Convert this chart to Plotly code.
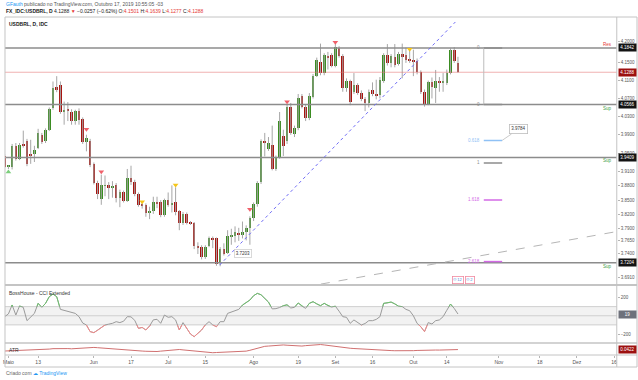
import math
import plotly.graph_objects as go

W, H = 638, 380
FONT = "Liberation Sans, Arial, sans-serif"

# ---------------- data ----------------
opens = [3.943, 3.921, 3.920, 3.966, 3.938, 3.968, 3.977, 3.9485, 3.949, 3.961,
         3.990, 3.976, 4.001, 4.048, 4.095, 4.099, 4.041, 4.044, 4.041, 4.021,
         4.043, 4.025, 3.974, 3.977, 3.926, 3.887, 3.853, 3.880, 3.881, 3.877,
         3.882, 3.855, 3.866, 3.849, 3.896, 3.889, 3.862, 3.840, 3.840, 3.823,
         3.826, 3.846, 3.845, 3.818, 3.850, 3.841, 3.845, 3.826, 3.802, 3.821,
         3.802, 3.801, 3.755, 3.752, 3.731, 3.755, 3.770, 3.770, 3.721, 3.748,
         3.741, 3.775, 3.776, 3.781, 3.778, 3.783, 3.792, 3.813, 3.841, 3.888,
         3.976, 3.960, 3.968, 3.917, 3.941, 3.987, 3.976, 4.050, 3.992, 4.004,
         4.075, 4.052, 4.027, 4.073, 4.121, 4.153, 4.127, 4.165, 4.168, 4.144,
         4.183, 4.166, 4.093, 4.108, 4.085, 4.099, 4.083, 4.069, 4.061, 4.088,
         4.079, 4.078, 4.110, 4.168, 4.149, 4.163, 4.148, 4.170, 4.168, 4.158,
         4.155, 4.155, 4.129, 4.085, 4.058, 4.106, 4.094, 4.109, 4.106, 4.105,
         4.127, 4.180, 4.1501]
highs = [3.948, 3.924, 3.970, 3.972, 3.972, 3.999, 3.981, 3.979, 3.966, 4.003,
         3.994, 4.004, 4.050, 4.108, 4.120, 4.108, 4.063, 4.062, 4.046, 4.045,
         4.048, 4.028, 3.990, 3.981, 3.930, 3.891, 3.904, 3.902, 3.888, 3.890,
         3.886, 3.872, 3.870, 3.916, 3.923, 3.893, 3.866, 3.846, 3.843, 3.836,
         3.857, 3.857, 3.850, 3.853, 3.866, 3.881, 3.877, 3.829, 3.825, 3.824,
         3.806, 3.804, 3.762, 3.756, 3.756, 3.774, 3.774, 3.772, 3.752, 3.760,
         3.787, 3.790, 3.795, 3.792, 3.805, 3.797, 3.816, 3.845, 3.890, 3.980,
         3.994, 3.985, 4.010, 3.945, 4.040, 4.001, 4.056, 4.060, 4.010, 4.080,
         4.080, 4.056, 4.082, 4.125, 4.162, 4.194, 4.172, 4.175, 4.172, 4.193,
         4.188, 4.170, 4.115, 4.112, 4.127, 4.104, 4.088, 4.073, 4.090, 4.106,
         4.112, 4.118, 4.172, 4.193, 4.170, 4.193, 4.175, 4.194, 4.185, 4.180,
         4.180, 4.160, 4.133, 4.090, 4.110, 4.117, 4.134, 4.118, 4.127, 4.135,
         4.183, 4.186, 4.1639]
lows = [3.918, 3.916, 3.915, 3.934, 3.935, 3.962, 3.922, 3.927, 3.931, 3.959,
        3.970, 3.972, 3.998, 4.045, 4.084, 4.036, 4.012, 4.020, 4.012, 4.012,
        4.012, 3.970, 3.954, 3.920, 3.883, 3.852, 3.840, 3.858, 3.852, 3.855,
        3.845, 3.835, 3.845, 3.846, 3.882, 3.858, 3.836, 3.832, 3.815, 3.810,
        3.821, 3.833, 3.814, 3.815, 3.836, 3.824, 3.818, 3.787, 3.798, 3.799,
        3.798, 3.748, 3.738, 3.727, 3.728, 3.752, 3.750, 3.714, 3.713, 3.735,
        3.738, 3.757, 3.762, 3.765, 3.770, 3.766, 3.757, 3.806, 3.836, 3.884,
        3.943, 3.955, 3.913, 3.912, 3.938, 3.944, 3.970, 3.990, 3.985, 4.000,
        4.048, 4.020, 4.022, 4.070, 4.118, 4.122, 4.122, 4.135, 4.140, 4.140,
        4.162, 4.085, 4.085, 4.055, 4.080, 4.078, 4.064, 4.042, 4.050, 4.075,
        4.068, 4.070, 4.105, 4.144, 4.140, 4.140, 4.144, 4.115, 4.150, 4.150,
        4.120, 4.124, 4.080, 4.052, 4.055, 4.070, 4.060, 4.085, 4.085, 4.100,
        4.124, 4.150, 4.1277]
closes = [3.921, 3.922, 3.966, 3.938, 3.968, 3.966, 3.927, 3.945, 3.956, 3.993,
          3.974, 4.000, 4.046, 4.093, 4.091, 4.039, 4.044, 4.043, 4.021, 4.043,
          4.023, 3.974, 3.982, 3.924, 3.887, 3.862, 3.881, 3.881, 3.877, 3.880,
          3.855, 3.866, 3.849, 3.896, 3.888, 3.862, 3.840, 3.838, 3.822, 3.826,
          3.845, 3.842, 3.818, 3.850, 3.839, 3.843, 3.825, 3.802, 3.821, 3.802,
          3.801, 3.755, 3.750, 3.731, 3.752, 3.770, 3.767, 3.717, 3.748, 3.738,
          3.776, 3.776, 3.784, 3.778, 3.784, 3.792, 3.813, 3.841, 3.886, 3.976,
          3.973, 3.973, 3.917, 3.941, 4.020, 3.965, 4.051, 3.994, 4.004, 4.070,
          4.052, 4.027, 4.076, 4.121, 4.157, 4.127, 4.168, 4.160, 4.144, 4.187,
          4.166, 4.093, 4.108, 4.063, 4.099, 4.083, 4.069, 4.061, 4.085, 4.079,
          4.076, 4.112, 4.168, 4.149, 4.165, 4.145, 4.170, 4.164, 4.157, 4.155,
          4.154, 4.129, 4.085, 4.058, 4.106, 4.095, 4.109, 4.106, 4.107, 4.127,
          4.179, 4.1545, 4.1288]
cci_values = [-10, 20, 118, 8, 107, 92, -54, -10, 26, 136,
              92, 136, 209, 238, 209, 70, 60, 44, 35, 26,
              -10, -80, -101, -174, -185, -160, -130, -101, -92, -83,
              -65, -75, -60, -10, -12, -50, -138, -128, -156, -112,
              -45, -39, -83, 8, -17, -10, -46, -156, -75, -138,
              -200, -229, -192, -156, -100, -65, -100, -120, -65, -65,
              26, 40, 55, 70, 117, 140, 172, 220, 245, 230,
              190, 150, 75, 78, 90, 110, 120, 85, 92, 140,
              105, 81, 136, 154, 130, 110, 136, 110, 95, 105,
              50, -10, -17, -83, -46, -75, -101, -85, -54, -54,
              -40, -10, 136, 140, 150, 130, 105, 100, 70, 55,
              0, -83, -120, -174, -75, -90, -54, -46, -10, 60,
              128, 80, 19]
atr_values = [0.0370, 0.0375, 0.0382, 0.0388, 0.0395, 0.0402, 0.0410, 0.0405, 0.0400, 0.0412,
              0.0418, 0.0425, 0.0440, 0.0455, 0.0462, 0.0470, 0.0465, 0.0458, 0.0450, 0.0462,
              0.0475, 0.0488, 0.0495, 0.0505, 0.0500, 0.0490, 0.0478, 0.0465, 0.0452, 0.0440,
              0.0432, 0.0420, 0.0408, 0.0415, 0.0402, 0.0390, 0.0378, 0.0368, 0.0360, 0.0352,
              0.0346, 0.0352, 0.0365, 0.0380, 0.0398, 0.0415, 0.0430, 0.0425, 0.0410, 0.0395,
              0.0380, 0.0365, 0.0350, 0.0338, 0.0325, 0.0315, 0.0308, 0.0315, 0.0322, 0.0330,
              0.0335, 0.0340, 0.0338, 0.0342, 0.0348, 0.0365, 0.0395, 0.0430, 0.0470, 0.0525,
              0.0540, 0.0550, 0.0565, 0.0570, 0.0585, 0.0590, 0.0580, 0.0570, 0.0560, 0.0552,
              0.0550, 0.0565, 0.0580, 0.0600, 0.0612, 0.0605, 0.0590, 0.0570, 0.0545, 0.0525,
              0.0505, 0.0495, 0.0485, 0.0470, 0.0460, 0.0450, 0.0440, 0.0432, 0.0428, 0.0420,
              0.0412, 0.0405, 0.0398, 0.0390, 0.0385, 0.0380, 0.0376, 0.0372, 0.0370, 0.0375,
              0.0382, 0.0390, 0.0398, 0.0405, 0.0410, 0.0408, 0.0405, 0.0404, 0.0410, 0.0415,
              0.0420, 0.0425, 0.0422]
bar_index = list(range(len(closes)))

date_tick_pos = [1, 9, 24, 34, 44, 54, 67, 79, 89, 99, 110, 119, 133, 144, 154, 164]
date_tick_text = ["Maio", "13", "Jun", "17", "Jul", "15", "Ago", "19", "Set", "16",
                  "Out", "14", "Nov", "18", "Dez", "16"]
price_tick_vals = [4.2000, 4.1500, 4.1100, 4.0700, 4.0300, 3.9900, 3.9500, 3.9100,
                   3.8800, 3.8500, 3.8200, 3.7900, 3.7650, 3.7400, 3.6910]
cci_tick_vals = [200, -200]
cci_tick_text = ["200", "−200"]

level_values = [4.1842, 4.0566, 3.9409, 3.7204]
level_tags = ["Res", "Sup", "Sup", "Sup"]
last_close = 4.1288
cci_last = 19
atr_last = 0.0422

fib_ratios = [0, 0.618, 1, 1.618, 2.618]
fib_high, fib_low = 4.1842, 4.0566
fib_callout = "3.9784"
fib_bars = [128.95, 133.9]

signal_bars = [1, 22, 26, 37, 46, 66, 76, 89, 109]
signal_prices = [3.9095, 4.0023, 3.9102, 3.8465, 3.8818, 3.8306, 4.0627, 4.1970, 4.1810]
signal_kinds = ["buy", "sell", "sell", "warn", "warn", "sell", "sell", "sell", "warn"]

trend_bars = [57.85, 121.3]
trend_prices = [3.7155, 4.2439]
trend_label = "3.7203"
trend_label_pos = (64.1, 3.7399)
channel_bars = [85.1, 164.74]
channel_prices = [3.677, 3.7842]

# ---------------- styling / geometry ----------------
GREEN = "#3b8c22"
RED = "#a8140f"
WICK = "#a6a6a6"
SEP = "#c4c4c4"


def px(x):
    return x / W


def py(y):
    return 1 - y / H


BAR0, STEP = 2.7, 3.727
PLOT_L, PLOT_R = 3, 616.7
TOP, SEP1, SEP2, XAX, BOT = 17, 285, 343, 355, 367
xr = [(PLOT_L - BAR0) / STEP, (PLOT_R - BAR0) / STEP]

# log price scale: 4.2 at y=41 px, 4209 px per decade
REF_LOG, REF_Y, PPD = math.log10(4.2), 41, 4209.0
price_range = [REF_LOG - (SEP1 - REF_Y) / PPD, REF_LOG + (REF_Y - TOP) / PPD]

CCI_ZERO, CCI_PX = 315.75, 0.0913
cci_hi = (CCI_ZERO - SEP1) / CCI_PX
cci_lo = (CCI_ZERO - SEP2) / CCI_PX
y100 = CCI_ZERO - 100 * CCI_PX
ym100 = CCI_ZERO + 100 * CCI_PX

ATR_PX = 275.0
atr_lo = 0.025 - (XAX - 354.3) / ATR_PX
atr_hi = 0.065 + (343.3 - SEP2) / ATR_PX

fig = go.Figure()

# wicks
wx, wy = [], []
for k, lo, hi in zip(bar_index, lows, highs):
    wx += [k, k, None]
    wy += [lo, hi, None]
fig.add_trace(go.Scatter(x=wx, y=wy, mode="lines", line=dict(color=WICK, width=1),
                         xaxis="x", yaxis="y", hoverinfo="skip"))

# bodies
bases = [min(o, c) for o, c in zip(opens, closes)]
heights = [max(abs(c - o), 0.0016) for o, c in zip(opens, closes)]
colors = [GREEN if c > o else RED for o, c in zip(opens, closes)]
fig.add_trace(go.Bar(x=bar_index, y=heights, base=bases, width=0.7,
                     marker=dict(color=colors, line=dict(width=0)),
                     xaxis="x", yaxis="y", hoverinfo="skip"))

XL, XR = -5, 170
# level lines
for lv in level_values:
    fig.add_trace(go.Scatter(x=[XL, XR], y=[lv, lv], mode="lines",
                             line=dict(color="#8c8c8c", width=1.5), xaxis="x", yaxis="y"))
fig.add_trace(go.Scatter(x=[XL, XR], y=[last_close, last_close], mode="lines",
                         line=dict(color="rgba(229,115,115,0.55)", width=1), xaxis="x", yaxis="y"))

# trend line & channel line
fig.add_trace(go.Scatter(x=trend_bars, y=trend_prices, mode="lines",
                         line=dict(color="#6f6cf5", width=1, dash="dot"), xaxis="x", yaxis="y"))
fig.add_trace(go.Scatter(x=channel_bars, y=channel_prices, mode="lines",
                         line=dict(color="#b5b5b5", width=1, dash="dash"), xaxis="x", yaxis="y"))

# fib extension
fib_colors = ["#8c8c8c", "#8fc1f5", "#8c8c8c", "#d36ae6", "#d36ae6"]
step = fib_high - fib_low
fib_prices = [fib_low - step * r for r in fib_ratios]
fig.add_trace(go.Scatter(x=[fib_bars[0], fib_bars[0]], y=[fib_high, fib_low], mode="lines",
                         line=dict(color="#bdbdbd", width=1), xaxis="x", yaxis="y"))
fig.add_trace(go.Scatter(x=fib_bars, y=[fib_high, fib_high], mode="lines",
                         line=dict(color="#8c8c8c", width=1.5), xaxis="x", yaxis="y"))
for fp, fc in zip(fib_prices, fib_colors):
    fig.add_trace(go.Scatter(x=fib_bars, y=[fp, fp], mode="lines",
                             line=dict(color=fc, width=1.5), xaxis="x", yaxis="y"))

# signal markers
sig_style = {"buy": ("triangle-up", "#7ccf7c"), "sell": ("triangle-down", "#f0606a"),
             "warn": ("triangle-down", "#f5c518")}
fig.add_trace(go.Scatter(x=signal_bars, y=signal_prices, mode="markers",
                         marker=dict(symbol=[sig_style[s][0] for s in signal_kinds],
                                     color=[sig_style[s][1] for s in signal_kinds], size=5,
                                     line=dict(width=0)),
                         xaxis="x", yaxis="y"))

# CCI
fig.add_trace(go.Scatter(x=bar_index, y=cci_values, mode="lines",
                         line=dict(color="#9a9a9a", width=1), xaxis="x", yaxis="y2"))
fig.add_trace(go.Scatter(x=bar_index, y=cci_values, mode="lines",
                         line=dict(color="#6cc16c", width=1), xaxis="x", yaxis="y3"))
fig.add_trace(go.Scatter(x=bar_index, y=cci_values, mode="lines",
                         line=dict(color="#f28a8a", width=1), xaxis="x", yaxis="y4"))

# ATR
fig.add_trace(go.Scatter(x=bar_index, y=atr_values, mode="lines",
                         line=dict(color="#d07070", width=1), xaxis="x", yaxis="y5"))

shapes = []
# CCI band
shapes.append(dict(type="rect", xref="paper", x0=px(PLOT_L), x1=px(PLOT_R), yref="y2",
                   y0=-100, y1=100, fillcolor="#f2f2f2", line=dict(width=0), layer="below"))
for v in (100, 0, -100):
    shapes.append(dict(type="line", xref="paper", x0=px(PLOT_L), x1=px(PLOT_R), yref="y2",
                       y0=v, y1=v, line=dict(color="#cfcfcf", width=1), layer="below"))
# separators / frame
for yy, wd in ((SEP1, 2), (SEP2, 1.5), (XAX, 1)):
    shapes.append(dict(type="line", xref="paper", yref="paper", x0=px(PLOT_L), x1=px(637),
                       y0=py(yy), y1=py(yy), line=dict(color=SEP, width=wd)))
shapes.append(dict(type="line", xref="paper", yref="paper", x0=px(PLOT_R), x1=px(PLOT_R),
                   y0=py(TOP), y1=py(BOT), line=dict(color=SEP, width=1)))
shapes.append(dict(type="rect", xref="paper", yref="paper", x0=px(PLOT_L), x1=px(637),
                   y0=py(BOT), y1=py(TOP), line=dict(color=SEP, width=1)))

ann = []


def txt(x, y, text, size=5, color="#333", anchor="left", **kw):
    d = dict(xref="paper", yref="paper", x=px(x), y=py(y), text=text, showarrow=False,
             xanchor=anchor, yanchor="middle", font=dict(size=size, color=color, family=FONT))
    d.update(kw)
    return d


ann.append(txt(2, 4, '<span style="color:#2196f3">GFauth</span> publicado no TradingView.com, '
                     'Outubro 17, 2019 10:55:05 -03', color="#555"))
ann.append(txt(2, 11, '<b>FX_IDC:USDBRL, D</b> 4.1288 <span style="color:#e53935">▼</span> '
                      '−0.0257 (−0.62%) O:<span style="color:#e53935">4.1501</span> '
                      'H:<span style="color:#e53935">4.1639</span> '
                      'L:<span style="color:#e53935">4.1277</span> '
                      'C:<span style="color:#e53935">4.1288</span>', color="#222"))
ann.append(txt(5, 24, "<b>USDBRL, D, IDC</b>", color="#222"))
ann.append(txt(5, 292.5, "BossHouse - CCI Extended", color="#333"))
ann.append(txt(5, 349.5, "ATR", color="#333"))
ann.append(txt(2, 373, 'Criado com <span style="color:#2196f3">☁ TradingView</span>', color="#666"))


def box(yref, yval, text, bg):
    return dict(xref="paper", x=px(617.5), xanchor="left", yref=yref, y=yval, yanchor="middle",
                text=text, showarrow=False, font=dict(size=4.5, color="white", family=FONT),
                bgcolor=bg, borderpad=1, width=15)


for lv, tag in zip(level_values, level_tags):
    ann.append(box("y", math.log10(lv), f"{lv:.4f}", "#131313"))
    if tag == "Res":
        ann.append(dict(xref="paper", x=px(614), xanchor="right", yref="y", y=math.log10(lv),
                        yanchor="middle", yshift=3, text=tag, showarrow=False,
                        font=dict(size=4.5, color="#e53935", family=FONT)))
    else:
        ann.append(dict(xref="paper", x=px(614), xanchor="right", yref="y", y=math.log10(lv),
                        yanchor="middle", yshift=-3.5, text=tag, showarrow=False,
                        font=dict(size=4.5, color="#43a047", family=FONT)))
ann.append(box("y", math.log10(last_close), f"{last_close:.4f}", "#9c1010"))
ann.append(box("y2", cci_last, str(cci_last), "#6e717b"))
ann.append(box("y5", atr_last, f"{atr_last:.4f}", "#9c1010"))

# fib labels
fib_text = ["0", "0.618", "1", "1.618", "2.618"]
ann.append(dict(xref="x", x=fib_bars[0] - 0.6, xanchor="right", yref="y", y=math.log10(fib_high),
                yanchor="middle", text="0", showarrow=False,
                font=dict(size=4.5, color="#8c8c8c", family=FONT)))
for fp, ft, fc in zip(fib_prices, fib_text, fib_colors):
    ann.append(dict(xref="x", x=fib_bars[0] - 0.6, xanchor="right", yref="y", y=math.log10(fp),
                    yanchor="middle", text=ft, showarrow=False,
                    font=dict(size=4.5, color=fc, family=FONT)))
ann.append(dict(xref="x", x=fib_bars[1], yref="y", y=math.log10(fib_prices[1]), text=fib_callout,
                showarrow=True, arrowhead=0, arrowwidth=0.8, arrowcolor="#bdbdbd", ax=16, ay=-11,
                bgcolor="white", bordercolor="#bdbdbd", borderwidth=0.8, borderpad=1.5,
                font=dict(size=4.5, color="#333", family=FONT)))
ann.append(dict(xref="x", x=trend_label_pos[0], yref="y", y=math.log10(trend_label_pos[1]),
                text=trend_label, showarrow=False, bgcolor="white", bordercolor="#d0d0d0",
                borderwidth=0.8, borderpad=1, font=dict(size=4.5, color="#333", family=FONT)))

# small event badges
for bx, bt in ((122.0, "12"), (125.2, "2")):
    ann.append(dict(xref="x", x=bx, yref="y", y=math.log10(3.6853), text="⚇" + bt,
                    showarrow=False, bgcolor="white", bordercolor="#f08aa0", borderwidth=0.8,
                    borderpad=0.5, font=dict(size=4, color="#4a7fd6", family=FONT)))

axis_common = dict(showgrid=False, zeroline=False, fixedrange=True)
fig.update_layout(
    width=W, height=H, margin=dict(l=0, r=0, t=0, b=0),
    paper_bgcolor="white", plot_bgcolor="rgba(0,0,0,0)", showlegend=False,
    font=dict(family=FONT, size=5, color="#444"),
    bargap=0,
    xaxis=dict(domain=[px(PLOT_L), px(PLOT_R)], range=xr, anchor="free", position=py(XAX),
               tickvals=date_tick_pos, ticktext=date_tick_text, ticks="outside", ticklen=2,
               tickcolor="#b5b5b5", tickfont=dict(size=5, color="#555", family=FONT),
               showline=False, **axis_common),
    yaxis=dict(domain=[py(SEP1), py(TOP)], type="log", range=price_range, side="right",
               anchor="x", tickvals=price_tick_vals,
               ticktext=[f"{v:.4f}" for v in price_tick_vals], ticks="outside", ticklen=2,
               tickcolor="#b5b5b5", tickfont=dict(size=4.5, color="#555", family=FONT),
               showline=False, **axis_common),
    yaxis2=dict(domain=[py(SEP2), py(SEP1)], range=[cci_lo, cci_hi], side="right", anchor="x",
                tickvals=cci_tick_vals, ticktext=cci_tick_text, ticks="outside", ticklen=2,
                tickcolor="#b5b5b5", tickfont=dict(size=4.5, color="#555", family=FONT),
                showline=False, **axis_common),
    yaxis3=dict(domain=[py(y100), py(SEP1)], range=[100, cci_hi], anchor="x", visible=False,
                **axis_common),
    yaxis4=dict(domain=[py(SEP2), py(ym100)], range=[cci_lo, -100], anchor="x", visible=False,
                **axis_common),
    yaxis5=dict(domain=[py(XAX), py(SEP2)], range=[atr_lo, atr_hi], anchor="x", visible=False,
                **axis_common),
    shapes=shapes, annotations=ann,
)

fig.write_html("out.html", config={"displayModeBar": False},
               post_script="document.body.style.margin='0';document.body.style.overflow='hidden';")
